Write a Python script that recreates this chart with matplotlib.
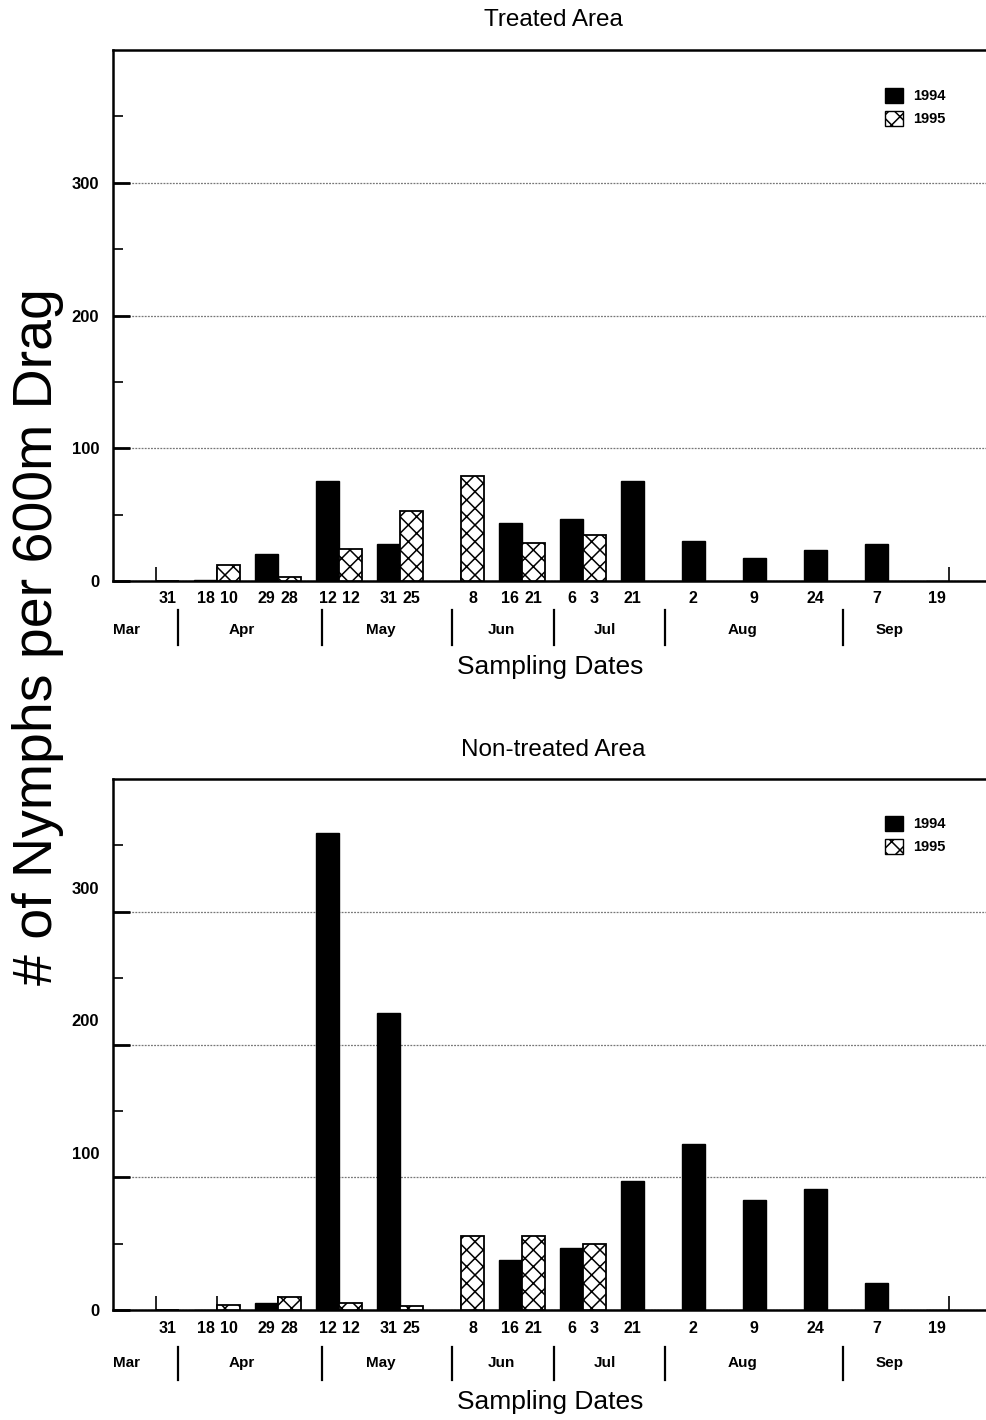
import numpy as np
import matplotlib
matplotlib.use('Agg')
import matplotlib.pyplot as plt
from matplotlib.patches import Patch
from matplotlib.transforms import ScaledTranslation

plt.rcParams['font.family'] = ['Liberation Sans', 'DejaVu Sans']
plt.rcParams['hatch.linewidth'] = 1.1

# sampling rounds (pairs of 1994 / 1995 dates)
dates_1994 = ['', '18', '29', '12', '31', '', '16', '6', '21', '2', '9', '24', '7', '19']
dates_1995 = ['31', '10', '28', '12', '25', '8', '21', '3', '', '', '', '', '', '']

treated_1994 = [None, 1, 20, 75, 28, None, 44, 47, 75, 30, 17, 23, 28, 0]
treated_1995 = [0, 12, 3, 24, 53, 79, 29, 35, None, None, None, None, None, None]

nontreated_1994 = [None, 0, 5, 359, 224, None, 38, 47, 97, 125, 83, 91, 20, 0]
nontreated_1995 = [0, 4, 10, 5, 3, 56, 56, 50, None, None, None, None, None, None]

months = ['Mar', 'Apr', 'May', 'Jun', 'Jul', 'Aug', 'Sep']
month_pos = [-0.48, 1.41, 3.69, 5.67, 7.36, 9.62, 12.03]
month_edges = [0.36, 2.72, 4.85, 6.52, 8.34, 11.26]

W = 986
H = 1420
fig = plt.figure(figsize=(W / 100, H / 100), dpi=100)

bw = 0.377
x = np.arange(len(dates_1994))


def draw_panel(rect, v94, v95, title, title_y, offs, leg_y, shift_labels):
    left, top, right, bottom = rect
    ax = fig.add_axes([left / W, 1 - bottom / H, (right - left) / W, (bottom - top) / H])
    hpx = bottom - top

    m94 = np.array([v is not None for v in v94])
    m95 = np.array([v is not None for v in v95])
    h94 = np.array([v if v is not None else 0 for v in v94], dtype=float)
    h95 = np.array([v if v is not None else 0 for v in v95], dtype=float)

    ax.bar(x[m94] - bw / 2, h94[m94], width=bw, color='black', edgecolor='black',
           linewidth=1.0, zorder=3)
    ax.bar(x[m95] + bw / 2, h95[m95], width=bw, color='white', edgecolor='black',
           hatch='xx', linewidth=1.3, zorder=3)

    ax.set_xlim(-0.705, 13.92)
    ax.set_ylim(0, 400)

    # y axis
    ax.set_yticks([0, 100, 200, 300])
    ax.set_yticklabels(['0', '100', '200', '300'], fontsize=12, fontweight='bold')
    ax.set_yticks([50, 150, 250, 350], minor=True)
    ax.tick_params(axis='y', which='major', direction='in', length=12, width=2, pad=10)
    ax.tick_params(axis='y', which='minor', direction='in', length=7, width=1.2)
    ax.yaxis.grid(True, which='major', linestyle=(0, (1.5, 1)), color='#777777', linewidth=0.9)
    ax.set_axisbelow(True)
    if shift_labels:
        off = ScaledTranslation(0, 0.24, fig.dpi_scale_trans)
        for lab in ax.get_yticklabels()[1:]:
            lab.set_transform(lab.get_transform() + off)

    # x axis: date labels under each bar, small ticks at round centres
    pos = []
    labs = []
    for i in range(len(x)):
        if dates_1994[i]:
            pos.append(x[i] - bw / 2)
            labs.append(dates_1994[i])
        if dates_1995[i]:
            pos.append(x[i] + bw / 2)
            labs.append(dates_1995[i])
    ax.set_xticks(pos)
    ax.set_xticklabels(labs, fontsize=11.5, fontweight='bold')
    ax.set_xticks(x, minor=True)
    ax.tick_params(axis='x', which='major', length=0, pad=offs[0])
    ax.tick_params(axis='x', which='minor', direction='in', length=10, width=1.2)

    for s in ['left', 'bottom', 'top']:
        ax.spines[s].set_linewidth(1.8)
    ax.spines['right'].set_visible(False)

    tr = ax.get_xaxis_transform()
    for e in month_edges:
        ax.plot([e, e], [-offs[2] / hpx, -offs[3] / hpx], color='black', lw=1.6,
                transform=tr, clip_on=False)
    for m, p in zip(months, month_pos):
        ax.text(p, -offs[1] / hpx, m, transform=tr, ha='center', va='center',
                fontsize=11, fontweight='bold')

    fig.text(550 / W, 1 - (bottom + offs[4]) / H, 'Sampling Dates', ha='center',
             va='center', fontsize=19)
    fig.text(553 / W, 1 - title_y / H, title, ha='center', va='center', fontsize=17.5)

    handles = [Patch(facecolor='black', edgecolor='black'),
               Patch(facecolor='white', edgecolor='black', hatch='xx')]
    fig.legend(handles, ['1994', '1995'], loc='upper left', frameon=False,
               bbox_to_anchor=(885 / W, 1 - leg_y / H), borderpad=0, borderaxespad=0,
               handlelength=1.2, handleheight=1.2, handletextpad=0.7, labelspacing=0.5,
               prop={'size': 10.5, 'weight': 'bold'})
    return ax


draw_panel((113, 50, 1005, 581), treated_1994, treated_1995, 'Treated Area', 20,
           (7, 49, 29, 64, 86), 88, False)
draw_panel((113, 779, 1005, 1310), nontreated_1994, nontreated_1995, 'Non-treated Area', 750,
           (8, 53, 37, 70, 92), 816, True)

fig.text(38 / W, 1 - 637 / H, '# of Nymphs per 600m Drag', rotation=90, ha='center',
         va='center', fontsize=40)

plt.savefig('out.png', dpi=100)
